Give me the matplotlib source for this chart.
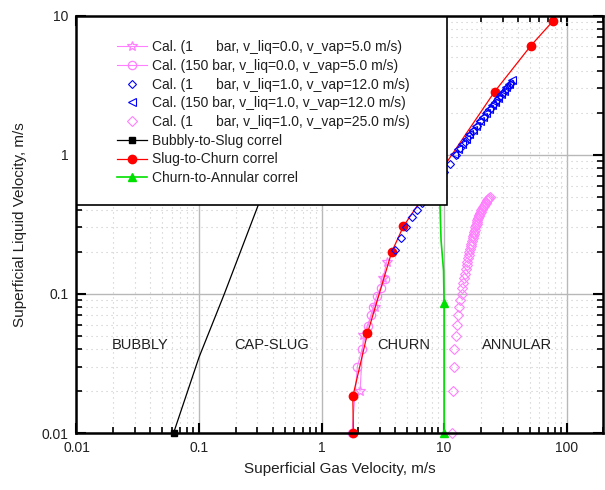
import matplotlib
matplotlib.use("Agg")
import matplotlib.pyplot as plt
from matplotlib.patches import Rectangle
from matplotlib.ticker import LogLocator, FixedLocator, FixedFormatter, NullFormatter

plt.rcParams['font.family'] = ['Liberation Sans', 'DejaVu Sans']

# ---- data ----
stars_x = [2.06, 2.20, 2.73, 3.19, 3.40]
stars_y = [0.020, 0.051, 0.080, 0.130, 0.170]

circ_x = [1.77, 1.96, 2.14, 2.40, 2.52, 2.64, 2.82, 3.05, 3.30]
circ_y = [0.010, 0.030, 0.040, 0.059, 0.070, 0.080, 0.097, 0.110, 0.128]

diam_x = [3.98, 4.44, 4.87, 5.44, 5.98, 6.6, 7.3, 8.1, 9.0, 10.0, 11.1, 12.4, 13.6,
          14.8, 16.0, 17.2, 18.5, 19.8, 21.2, 22.6, 24.0, 25.5, 27.0, 28.6, 30.2,
          31.9, 33.6, 35.3]
diam_y = [0.206, 0.254, 0.303, 0.356, 0.398, 0.45, 0.51, 0.58, 0.66, 0.75, 0.86, 0.99,
          1.12, 1.24, 1.36, 1.48, 1.61, 1.74, 1.88, 2.02, 2.17, 2.32, 2.47, 2.63,
          2.79, 2.96, 3.13, 3.30]

tri_x = [12.0, 13.0, 14.0, 15.0, 16.1, 17.2, 18.3, 19.5, 20.7, 22.0, 23.3, 24.7,
         26.1, 27.6, 29.1, 30.7, 32.3, 34.0, 35.7]
tri_y = [1.01, 1.10, 1.20, 1.30, 1.40, 1.51, 1.62, 1.74, 1.86, 1.99, 2.12, 2.27,
         2.41, 2.57, 2.72, 2.89, 3.06, 3.24, 3.43]

pdiam_y = [0.01, 0.02, 0.03, 0.04, 0.05, 0.06, 0.07, 0.08, 0.09, 0.10,
           0.11, 0.12, 0.13, 0.14, 0.15, 0.16, 0.17, 0.18, 0.19, 0.20,
           0.21, 0.22, 0.23, 0.24, 0.25, 0.26, 0.27, 0.28, 0.29, 0.30,
           0.31, 0.32, 0.33, 0.34, 0.35, 0.36, 0.37, 0.38, 0.39, 0.40,
           0.41, 0.42, 0.43, 0.44, 0.45, 0.46, 0.47, 0.48, 0.49, 0.50]
pdiam_x = [11.6, 11.8, 12.0, 12.1, 12.4, 12.7, 12.9, 13.2, 13.6, 13.9,
           14.1, 14.3, 14.6, 14.8, 15.0, 15.3, 15.5, 15.7, 15.9, 16.1,
           16.3, 16.5, 16.7, 16.9, 17.1, 17.3, 17.5, 17.7, 17.9, 18.0,
           18.2, 18.4, 18.6, 18.7, 18.9, 19.1, 19.3, 19.6, 19.9, 20.2,
           20.5, 20.8, 21.1, 21.4, 21.8, 22.1, 22.5, 22.9, 23.3, 23.8]

black_x = [0.062, 0.10, 0.161, 0.306, 0.45]
black_y = [0.010, 0.035, 0.100, 0.440, 1.00]

red_x = [1.82, 1.80, 2.37, 3.74, 4.66, 25.8, 51.0, 78.0]
red_y = [0.010, 0.0183, 0.052, 0.200, 0.306, 2.83, 6.06, 9.2]

green_x = [10.0, 10.0, 9.9, 9.45, 9.27, 9.0]
green_y = [0.010, 0.086, 0.147, 0.243, 0.42, 0.9]

regimes = ["BUBBLY", "CAP-SLUG", "CHURN", "ANNULAR"]
regime_x = [0.033, 0.39, 4.7, 39.5]
regime_y = 0.043

labels = ["Cal. (1      bar, v_liq=0.0, v_vap=5.0 m/s)",
          "Cal. (150 bar, v_liq=0.0, v_vap=5.0 m/s)",
          "Cal. (1      bar, v_liq=1.0, v_vap=12.0 m/s)",
          "Cal. (150 bar, v_liq=1.0, v_vap=12.0 m/s)",
          "Cal. (1      bar, v_liq=1.0, v_vap=25.0 m/s)",
          "Bubbly-to-Slug correl",
          "Slug-to-Churn correl",
          "Churn-to-Annular correl"]

xticks = [0.01, 0.1, 1, 10, 100]
xticklabels = ["0.01", "0.1", "1", "10", "100"]
yticks = [0.01, 0.1, 1, 10]
yticklabels = ["0.01", "0.1", "1", "10"]

# ---- figure ----
fig = plt.figure(figsize=(6.05, 4.90), dpi=100)
ax = fig.add_axes([0.1264, 0.1163, 0.8711, 0.8520])
ax.set_xscale('log')
ax.set_yscale('log')
ax.set_xlim(0.01, 200)
ax.set_ylim(0.01, 10)

pink = '#ff80ff'
blue = '#0000ff'

h1, = ax.plot(stars_x, stars_y, color=pink, lw=0.8, marker='*', ms=7, mfc='none',
              mec=pink, mew=0.9, zorder=2, clip_on=False)
h2, = ax.plot(circ_x, circ_y, color=pink, lw=0.8, marker='o', ms=6, mfc='none',
              mec=pink, mew=0.9, zorder=2, clip_on=False)
h3, = ax.plot(diam_x, diam_y, ls='none', marker='D', ms=4.4, mfc='none',
              mec=blue, mew=0.8, zorder=3, clip_on=False)
h4, = ax.plot(tri_x, tri_y, ls='none', marker='<', ms=5.5, mfc='none',
              mec=blue, mew=0.8, zorder=3, clip_on=False)
h5, = ax.plot(pdiam_x, pdiam_y, ls='none', marker='D', ms=5.2, mfc='none',
              mec=pink, mew=0.8, zorder=3, clip_on=False)
h6, = ax.plot(black_x, black_y, color='black', lw=0.9, marker='s', ms=4,
              markevery=[0, 4], zorder=2.5, clip_on=False)
h7, = ax.plot(red_x, red_y, color='red', lw=0.9, marker='o', ms=6,
              zorder=2.5, clip_on=False)
h8, = ax.plot(green_x, green_y, color='#00e000', lw=1.2, marker='^', ms=6,
              markevery=[0, 1, 5], zorder=2.5, clip_on=False)

for t, xv in zip(regimes, regime_x):
    ax.text(xv, regime_y, t, ha='center', va='center', fontsize=10.5,
            color='#202020', zorder=2)

# grid
ax.grid(True, which='major', color='#b8b8b8', lw=1.0, ls='-', zorder=0)
ax.grid(True, which='minor', color='#c8c8c8', lw=0.8, ls=(0, (1, 3.5)), zorder=0)
ax.set_axisbelow(True)

ax.xaxis.set_major_locator(FixedLocator(xticks))
ax.xaxis.set_major_formatter(FixedFormatter(xticklabels))
ax.yaxis.set_major_locator(FixedLocator(yticks))
ax.yaxis.set_major_formatter(FixedFormatter(yticklabels))
ax.xaxis.set_minor_locator(LogLocator(base=10, subs=range(2, 10), numticks=20))
ax.yaxis.set_minor_locator(LogLocator(base=10, subs=range(2, 10), numticks=20))
ax.xaxis.set_minor_formatter(NullFormatter())
ax.yaxis.set_minor_formatter(NullFormatter())

ax.tick_params(which='both', direction='in', top=True, right=True,
               colors='black', labelcolor='#202020', labelsize=10)
ax.tick_params(which='major', length=7, width=1.5, pad=6)
ax.tick_params(which='minor', length=4, width=1.2)
for s in ax.spines.values():
    s.set_linewidth(1.8)
    s.set_zorder(6)

ax.set_xlabel("Superficial Gas Velocity, m/s", fontsize=11, color='#202020', labelpad=5)
ax.set_ylabel("Superficial Liquid Velocity, m/s", fontsize=11, color='#202020', labelpad=10.5)

# legend box
rect = Rectangle((0, 0.546), 0.703, 0.454, transform=ax.transAxes, facecolor='white',
                 edgecolor='black', lw=1.2, zorder=4.5)
ax.add_patch(rect)

leg = ax.legend([h1, h2, h3, h4, h5, h6, h7, h8], labels, loc='upper left',
                bbox_to_anchor=(0.077, 0.941), frameon=False, fontsize=10,
                borderpad=0, borderaxespad=0, handlelength=2.16, handletextpad=0.36,
                labelspacing=0.34, numpoints=1, markerscale=1.0)
leg.set_zorder(5)
for t in leg.get_texts():
    t.set_color('#202020')

fig.savefig("out.png", dpi=100)
